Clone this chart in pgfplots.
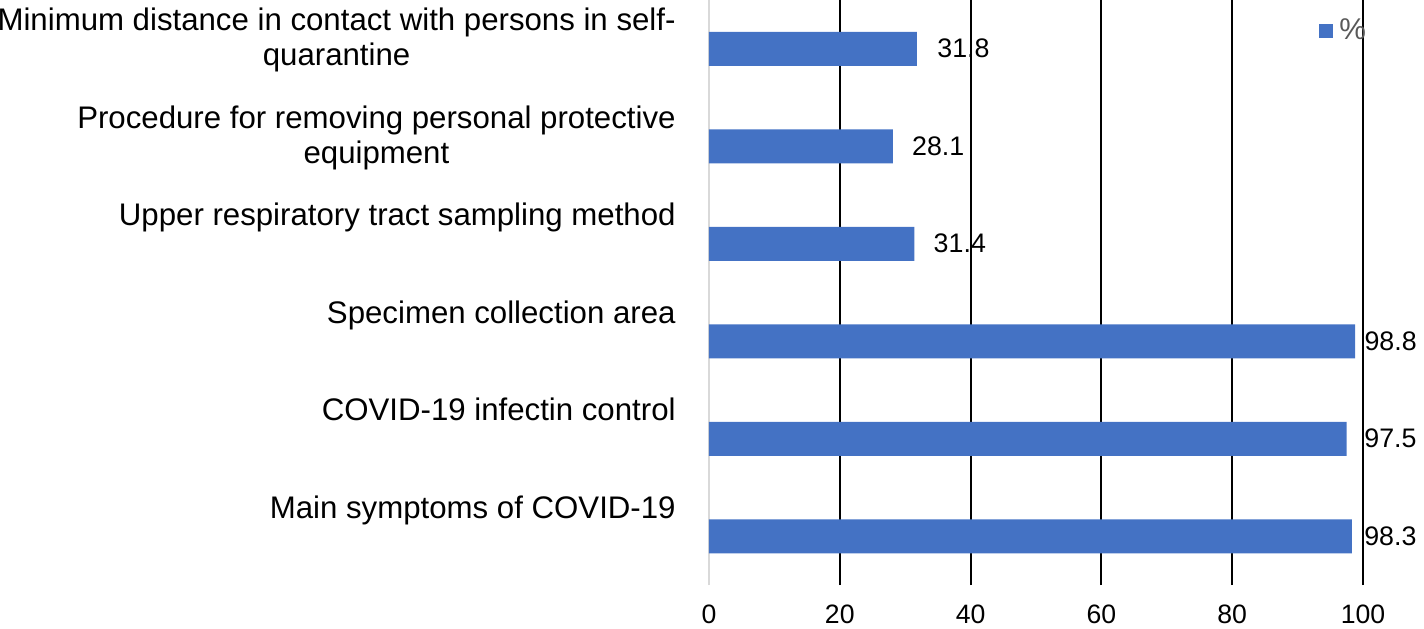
\documentclass[border=0pt]{standalone}
\usepackage{fontspec}
\setmainfont{Liberation Sans}
\usepackage{pgfplots}
\pgfplotsset{compat=1.18}
\usepackage{pgfplotstable}
\definecolor{barblue}{HTML}{4472C4}
\definecolor{leggray}{HTML}{595959}
\definecolor{axgray}{HTML}{D9D9D9}
\pgfplotstableread{
y val shift
0 98.3 6
1 97.5 8.7
2 98.8 4.5
3 31.4 9.5
4 28.1 9.5
5 31.8 10
}\datatable
\begin{document}
\begin{tikzpicture}
\useasboundingbox (-354.5pt,-21.5pt) rectangle (357.5pt,292.5pt);
\begin{axis}[
  at={(0,0)}, anchor=south west,
  scale only axis, width=327pt, height=292.5pt,
  xmin=0, xmax=100, ymin=-0.5, ymax=5.5,
  xbar, bar width=17pt,
  axis line style={draw=none},
  major tick length=0pt,
  xtick={20,40,60,80,100},
  xmajorgrids,
  major grid style={black, line width=1pt},
  extra x ticks={0},
  extra x tick style={xmajorgrids, major grid style={axgray, line width=1pt}},
  ytick={0,1,2,3,4,5},
  yticklabels={Main symptoms of COVID-19,COVID-19 infectin control,Specimen collection area,Upper respiratory tract sampling method,{Procedure for removing personal protective\\equipment},{Minimum distance in contact with persons in self-\\quarantine}},
  yticklabel style={font=\fontsize{15.6}{17.5}\selectfont, align=center, anchor=north east, inner sep=0pt, xshift=-16.5pt, yshift=20.5pt},
  xticklabel style={font=\fontsize{13.3}{16}\selectfont, anchor=north, inner sep=0pt, yshift=-10pt},
  /pgf/number format/assume math mode=true,
  point meta=x,
  nodes near coords,
  nodes near coords style={font=\fontsize{13.4}{16}\selectfont, anchor=west, inner sep=0pt, xshift=\myshift pt, /pgf/number format/fixed, /pgf/number format/precision=1},
  visualization depends on={\thisrow{shift} \as \myshift},
  legend style={at={(0.9327,0.947)}, anchor=west, draw=none, fill=none, font=\fontsize{15}{17}\selectfont, text=leggray, inner sep=0pt, nodes={inner xsep=3pt}},
  legend image code/.code={\fill[barblue] (0pt,-3.5pt) rectangle (7pt,3.5pt);},
]
\addplot[fill=barblue, draw=none] table[x=val, y=y] {\datatable};
\addlegendentry{\%}
\end{axis}
\end{tikzpicture}
\end{document}
